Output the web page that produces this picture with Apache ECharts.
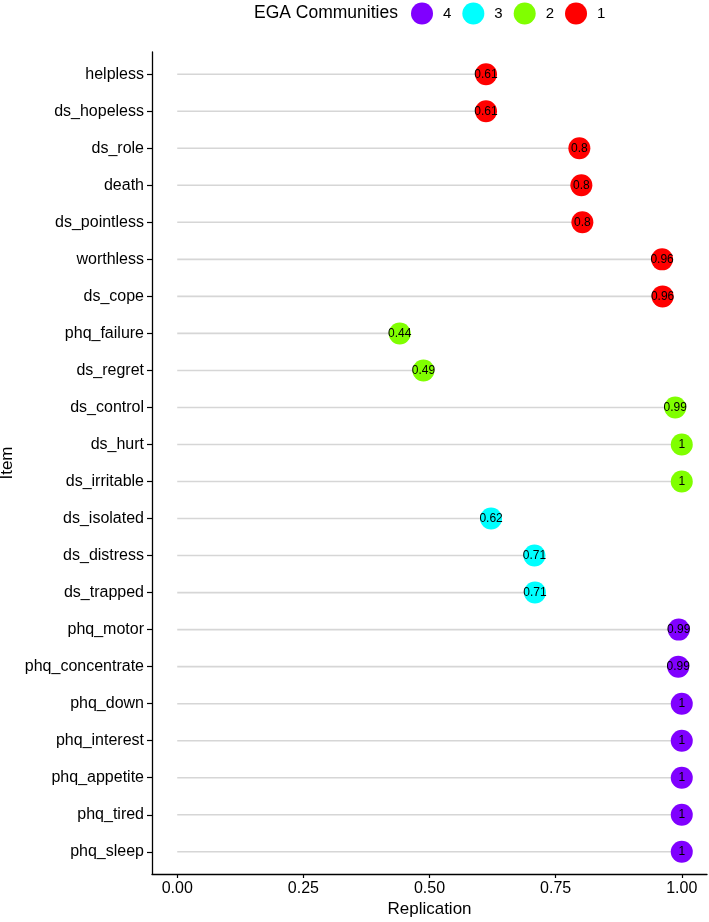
<!DOCTYPE html>
<html>
<head>
<meta charset="utf-8">
<script src="https://cdn.jsdelivr.net/npm/echarts@6/dist/echarts.min.js"></script>
<style>html,body{margin:0;padding:0;background:#fff}#c{width:709px;height:922px}</style>
</head>
<body>
<div id="c"></div>
<script>
const categories = ['helpless','ds_hopeless','ds_role','death','ds_pointless','worthless','ds_cope',
  'phq_failure','ds_regret','ds_control','ds_hurt','ds_irritable',
  'ds_isolated','ds_distress','ds_trapped',
  'phq_motor','phq_concentrate','phq_down','phq_interest','phq_appetite','phq_tired','phq_sleep'];
const replication = [0.612,0.612,0.797,0.801,0.803,0.961,0.962,
  0.441,0.488,0.987,1,1,
  0.622,0.708,0.709,
  0.994,0.993,1,1,1,1,1];
const community = [1,1,1,1,1,1,1,2,2,2,2,2,3,3,3,4,4,4,4,4,4,4];
const legendOrder = ['4','3','2','1'];
const communityColors = {'4':'#8000FF','3':'#00FFFF','2':'#80FF00','1':'#FF0000'};
const xTicks = [0,0.25,0.5,0.75,1];

const FONT = 'Liberation Sans, Arial, sans-serif';
const rowIdx = categories.map((_, i) => i);

const lineSeries = {
  type: 'custom',
  z: 1,
  silent: true,
  renderItem: function (params, api) {
    const y = api.value(1);
    const s = api.coord([0, y]);
    const e = api.coord([api.value(0), y]);
    return {type: 'line', shape: {x1: s[0], y1: s[1], x2: e[0], y2: e[1]},
      style: {stroke: '#d6d6d6', lineWidth: 1.6}};
  },
  data: replication.map((v, i) => [v, i])
};

const pointSeries = legendOrder.map(c => ({
  name: c,
  type: 'scatter',
  z: 3,
  symbol: 'circle',
  symbolSize: 22,
  itemStyle: {color: communityColors[c], opacity: 1},
  label: {show: true, position: 'inside', color: '#000', fontSize: 12, fontFamily: FONT,
    formatter: p => String(Number(p.value[0].toFixed(2)))},
  data: replication.map((v, i) => [v, i]).filter((d, i) => String(community[i]) === c)
}));

const chart = echarts.init(document.getElementById('c'), null, {renderer: 'canvas'});
chart.setOption({
  animation: false,
  backgroundColor: '#fff',
  textStyle: {fontFamily: FONT},
  title: {text: 'EGA Communities', left: 254, top: 4, padding: 0,
    textStyle: {fontSize: 17.5, fontWeight: 'normal', color: '#000', fontFamily: FONT}},
  legend: {data: legendOrder, left: 411, top: 2.5, padding: 0, itemWidth: 22, itemHeight: 22,
    itemGap: 11, icon: 'circle', selectedMode: false,
    textStyle: {fontSize: 15, color: '#000', padding: [0, 0, 0, 5], fontFamily: FONT}},
  grid: {left: 152, right: 2, top: 52, bottom: 48, containLabel: false, outerBoundsMode: 'none'},
  xAxis: {
    type: 'value', min: -0.05, max: 1.05,
    name: 'Replication', nameLocation: 'middle', nameGap: 27, nameMoveOverlap: false,
    nameTextStyle: {fontSize: 17, color: '#000', fontFamily: FONT},
    axisLine: {show: true, onZero: false, lineStyle: {color: '#000', width: 1.3}},
    axisTick: {show: true, length: 4, customValues: xTicks, lineStyle: {color: '#000', width: 1.2}},
    axisLabel: {customValues: xTicks, margin: 7, fontSize: 16, color: '#000', fontFamily: FONT,
      formatter: v => v.toFixed(2)},
    splitLine: {show: false}
  },
  yAxis: {
    type: 'value', inverse: true, min: -0.6, max: categories.length - 0.4,
    name: 'Item', nameLocation: 'middle', nameGap: 136, nameRotate: 90, nameMoveOverlap: false,
    nameTextStyle: {fontSize: 17, color: '#000', fontFamily: FONT},
    axisLine: {show: true, onZero: false, lineStyle: {color: '#000', width: 1.3}},
    axisTick: {show: true, length: 5, customValues: rowIdx, lineStyle: {color: '#000', width: 1.2}},
    axisLabel: {customValues: rowIdx, margin: 8, fontSize: 16, color: '#000', fontFamily: FONT,
      formatter: v => categories[Math.round(v)] || ''},
    splitLine: {show: false}
  },
  series: [lineSeries].concat(pointSeries)
});
</script>
</body>
</html>
